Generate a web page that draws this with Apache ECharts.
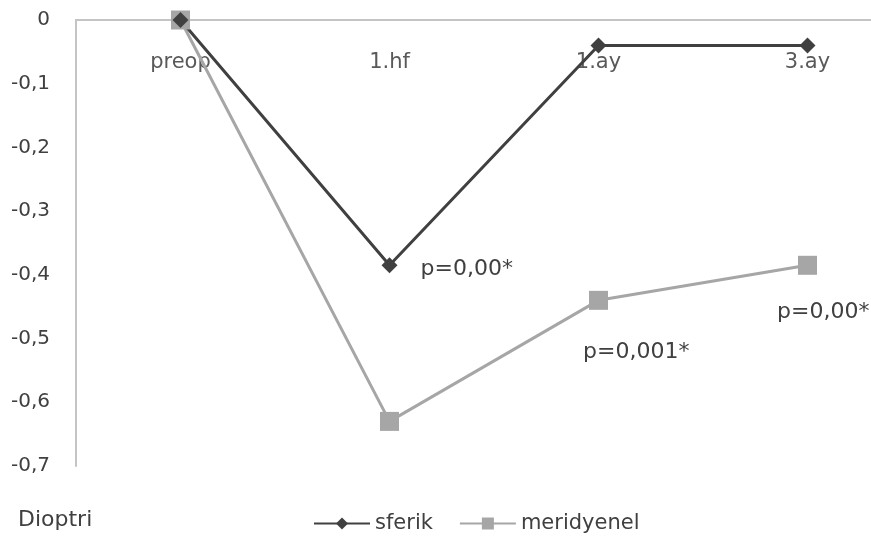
<!DOCTYPE html>
<html><head><meta charset="utf-8">
<script src="https://cdn.jsdelivr.net/npm/echarts@6/dist/echarts.min.js"></script>
<style>html,body{margin:0;padding:0;background:#fff;overflow:hidden}#c{width:912px;height:542px}</style>
</head><body><div id="c"></div>
<script>
var categories = ['preop', '1.hf', '1.ay', '3.ay'];
var sferik = [0, -0.385, -0.04, -0.04];
var meridyenel = [0, -0.63, -0.44, -0.385];
var sferikNotes = ['', 'p=0,00*', '', ''];
var meridyenelNotes = ['', '', 'p=0,001*', 'p=0,00*'];
var yLabelMin = -0.7, yLabelMax = 0, yStep = 0.1;

var font = 'DejaVu Sans';
function withNotes(vals, notes, offsets) {
  return vals.map(function (v, i) {
    if (!notes[i]) return v;
    return { value: v, label: { show: true, formatter: notes[i], offset: offsets[i] } };
  });
}
var chart = echarts.init(document.getElementById('c'));
chart.setOption({
  animation: false,
  textStyle: { fontFamily: font },
  grid: { left: 76, top: 20, right: 0, bottom: 76, containLabel: false },
  xAxis: {
    type: 'category', data: categories, boundaryGap: true, position: 'top',
    axisLine: { lineStyle: { color: '#c4c4c4', width: 2 } },
    axisTick: { show: false },
    axisLabel: { inside: true, color: '#595959', fontSize: 21, margin: 32, fontFamily: font }
  },
  yAxis: {
    type: 'value', min: yLabelMin, max: yLabelMax, interval: yStep,
    splitLine: { show: false },
    axisLine: { show: true, lineStyle: { color: '#c4c4c4', width: 2 } },
    axisTick: { show: false },
    axisLabel: { color: '#404040', fontSize: 20, margin: 26, fontFamily: font,
      formatter: function (v) { return (Math.round(v * 10) / 10).toString().replace('.', ','); } }
  },
  legend: {
    bottom: 3, left: 308, itemWidth: 56, itemHeight: 15, itemGap: 26,
    textStyle: { color: '#404040', fontSize: 21, fontFamily: font },
    data: ['sferik', 'meridyenel']
  },
  graphic: [{ type: 'text', left: 18, top: 509, style: { text: 'Dioptri', fontSize: 22, fill: '#404040', fontFamily: font } }],
  series: [
    {
      name: 'meridyenel', type: 'line', symbol: 'rect', symbolSize: 19,
      lineStyle: { color: '#a6a6a6', width: 3 }, itemStyle: { color: '#a6a6a6' },
      label: { color: '#404040', fontSize: 22, fontFamily: font, position: 'right', distance: 0 },
      data: withNotes(meridyenel, meridyenelNotes, [null, null, [-25, 52], [-40, 47]])
    },
    {
      name: 'sferik', type: 'line', symbol: 'diamond', symbolSize: 16,
      lineStyle: { color: '#404040', width: 3 }, itemStyle: { color: '#404040' },
      label: { color: '#404040', fontSize: 22, fontFamily: font, position: 'right', distance: 0 },
      data: withNotes(sferik, sferikNotes, [null, [23, 4], null, null])
    }
  ]
});
</script></body></html>
